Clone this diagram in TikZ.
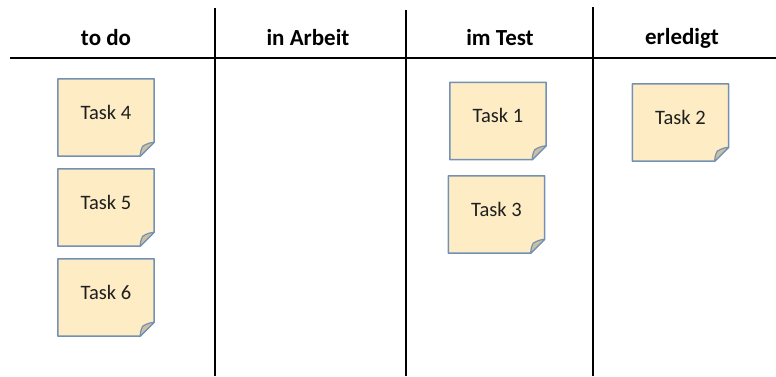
\documentclass[tikz,border=0pt]{standalone}
\usepackage{fontspec}
\setmainfont{Carlito}
\usetikzlibrary{backgrounds}
\definecolor{notefill}{RGB}{253,236,196}
\definecolor{noteline}{RGB}{115,145,182}
\definecolor{foldfill}{RGB}{204,192,158}
\tikzset{
  colhead/.style={font=\fontsize{23}{26}\selectfont\bfseries, inner sep=0pt},
  board/.style={line width=2.5pt, black},
  notebody/.style={minimum width=96pt, minimum height=77pt, inner sep=0pt,
    font=\fontsize{20.5}{23}\selectfont, text=black!88, text height=13pt, text depth=10pt},
  noteedge/.style={draw=noteline, fill=notefill, line width=1.5pt, line join=round},
  notefold/.style={draw=noteline, fill=foldfill, line width=1.2pt, line join=round}
}
% sticky note: name, centre x, centre y, label
\newcommand\stickynote[4]{%
  \node[notebody] (#1) at (#2,#3) {#4};
  \begin{pgfonlayer}{background}
    \path[noteedge] (#1.north west) -- (#1.north east) -- ([yshift=14pt]#1.south east)
      -- ([xshift=-14pt]#1.south east) -- (#1.south west) -- cycle;
    \path[notefold] ([yshift=14pt]#1.south east) -- ([xshift=-14pt]#1.south east)
      to[bend left=12] ([xshift=-11.5pt,yshift=10pt]#1.south east)
      to[bend left=12] cycle;
  \end{pgfonlayer}}
\begin{document}
\begin{tikzpicture}[x=1pt, y=-1pt]
  \useasboundingbox (0,0) rectangle (776,376);
  % column headers
  \node[colhead] (h1) at (106,38) {to do};
  \node[colhead] (h2) at (308,38) {in Arbeit};
  \node[colhead] (h3) at (500,38) {im Test};
  \node[colhead] (h4) at (682,38) {erledigt};
  % board grid
  \coordinate (hl) at (10,58);
  \coordinate (hr) at (776,58);
  \coordinate (v1t) at (215,8);   \coordinate (v1b) at (215,376);
  \coordinate (v2t) at (406,10);  \coordinate (v2b) at (406,376);
  \coordinate (v3t) at (593,7);   \coordinate (v3b) at (593,376);
  \draw[board] (hl) -- (hr);
  \draw[board] (v1t) -- (v1b);
  \draw[board] (v2t) -- (v2b);
  \draw[board] (v3t) -- (v3b);
  % tasks
  \stickynote{t4}{106}{117.5}{Task 4}
  \stickynote{t5}{106}{207.5}{Task 5}
  \stickynote{t6}{106}{297.5}{Task 6}
  \stickynote{t1}{498}{121}{Task 1}
  \stickynote{t3}{496.5}{214.5}{Task 3}
  \stickynote{t2}{680.5}{122.5}{Task 2}
\end{tikzpicture}
\end{document}
